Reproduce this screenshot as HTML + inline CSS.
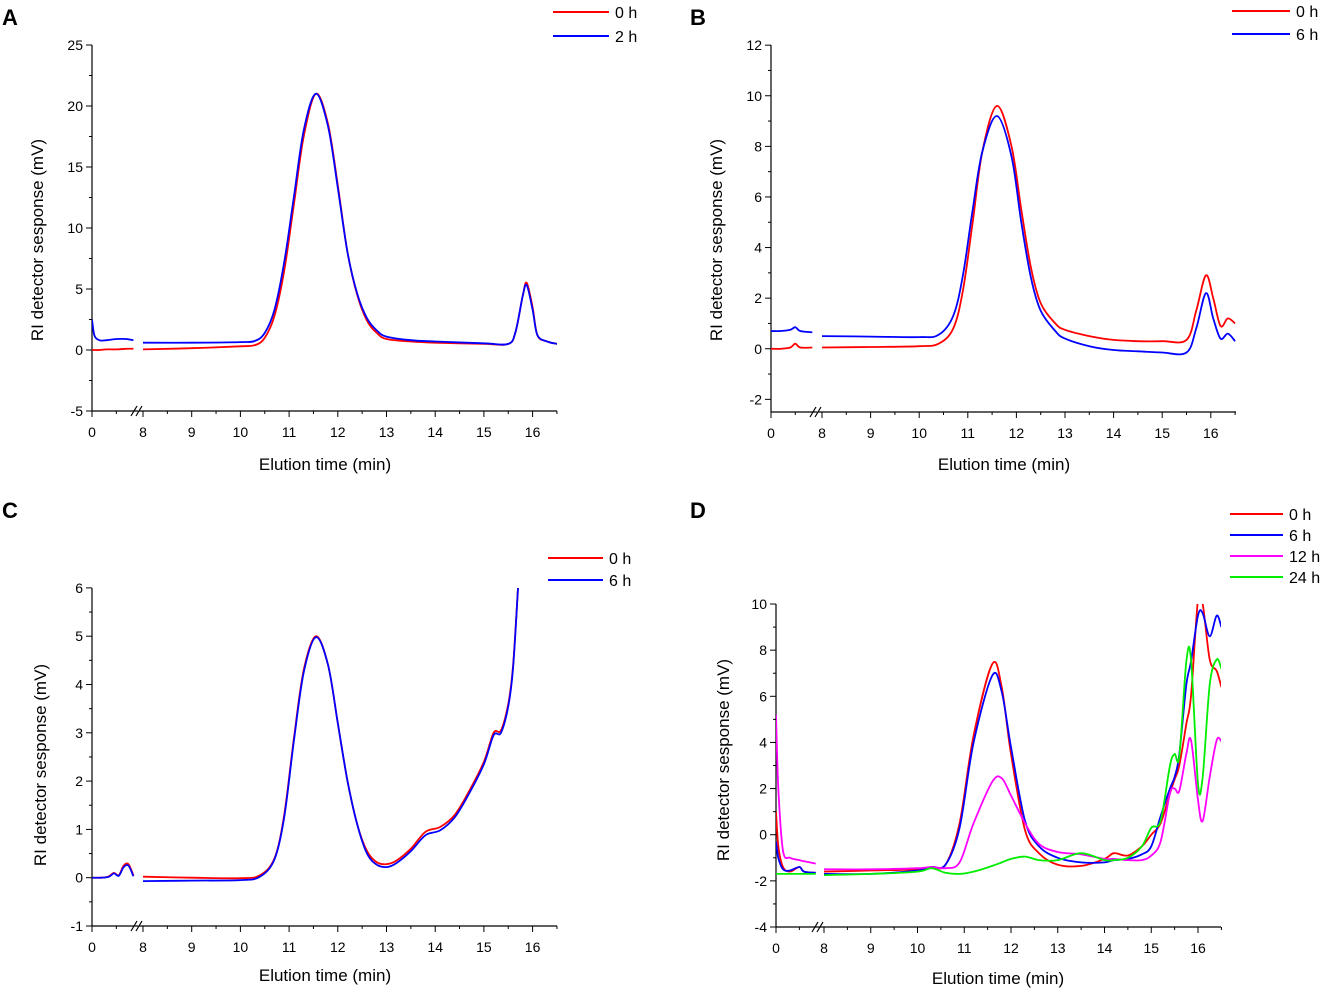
<!DOCTYPE html>
<html><head><meta charset="utf-8"><style>
body{margin:0;background:#fff;width:1324px;height:988px;overflow:hidden}
svg{font-family:"Liberation Sans",Arial,sans-serif}
</style></head><body>
<svg id="fig" width="1324" height="988">
<text x="2" y="25" font-size="22" font-weight="bold">A</text>
<text x="690" y="25" font-size="22" font-weight="bold">B</text>
<text x="2" y="518" font-size="22" font-weight="bold">C</text>
<text x="690" y="518" font-size="22" font-weight="bold">D</text>
</svg>
<script>
// Panel A data
const aPreT=[0,0.05,0.15,0.3,0.5,0.7,0.85];
const aPreRed=[0,0,0,0.05,0.05,0.1,0.1];
const aPreBlue=[2.5,1.2,0.8,0.8,0.9,0.9,0.8];
const aT=[8,9,10,10.3,10.5,10.7,10.9,11.1,11.3,11.55,11.8,12,12.2,12.4,12.6,12.8,13,13.5,14,15,15.5,15.65,15.8,15.88,16,16.1,16.3,16.5];
const aRed=[0.05,0.15,0.3,0.4,1,2.8,6.5,12,17.5,21,18.5,13.5,8,4.5,2.4,1.4,0.9,0.7,0.6,0.5,0.5,1.5,4.5,5.5,3.5,1.2,0.7,0.5];
const aBlue=[0.6,0.6,0.65,0.75,1.4,3.3,7.2,12.6,18,21,18.3,13.3,8,4.6,2.6,1.6,1.1,0.8,0.7,0.55,0.5,1.5,4.5,5.3,3.3,1.2,0.7,0.5];
const aYTicks=[-5,0,5,10,15,20,25];
// Panel B data
const bPreT=[0,0.2,0.4,0.5,0.6,0.85];
const bPreRed=[0,0,0.05,0.2,0.05,0.05];
const bPreBlue=[0.7,0.7,0.75,0.85,0.7,0.65];
const bT=[8,9,10,10.4,10.7,10.9,11.1,11.3,11.6,11.9,12.1,12.3,12.5,12.8,13,13.5,14,14.5,15,15.5,15.7,15.9,16.05,16.2,16.35,16.5];
const bRed=[0.05,0.07,0.1,0.2,0.8,2.3,5,7.8,9.6,8,5.5,3.2,1.8,1,0.75,0.5,0.35,0.3,0.3,0.35,1.5,2.9,2,0.9,1.2,1.0];
const bBlue=[0.5,0.48,0.46,0.55,1.3,2.9,5.5,7.8,9.2,7.6,5,2.8,1.5,0.7,0.4,0.1,-0.05,-0.1,-0.15,-0.15,0.8,2.2,1.2,0.4,0.6,0.3];
const bYTicks=[-2,0,2,4,6,8,10,12];
// Panel C data
const cPreT=[0,0.2,0.35,0.45,0.55,0.65,0.75,0.85];
const cPreRed=[0,0,0.03,0.1,0.05,0.25,0.28,0.05];
const cPreBlue=[0,0,0.02,0.09,0.04,0.22,0.25,0.03];
const cT=[8,9,10,10.4,10.7,10.9,11.1,11.3,11.55,11.8,12,12.2,12.4,12.6,12.8,13,13.2,13.5,13.8,14.1,14.4,14.7,15,15.2,15.35,15.5,15.6,15.7];
const cRed=[0.02,0,-0.01,0.05,0.4,1.3,2.9,4.3,5,4.4,3.2,2,1.1,0.55,0.32,0.28,0.35,0.6,0.95,1.05,1.3,1.8,2.4,3,3.05,3.6,4.4,6];
const cBlue=[-0.07,-0.06,-0.05,0.02,0.38,1.25,2.85,4.25,4.98,4.4,3.2,2,1.1,0.5,0.27,0.22,0.3,0.55,0.88,0.98,1.25,1.75,2.35,2.95,3.0,3.55,4.35,6];
const cYTicks=[-1,0,1,2,3,4,5,6];
// Panel D data
const dPreT=[0,0.05,0.15,0.3,0.5,0.6,0.85];
const dPreRed=[1,-0.5,-1.4,-1.6,-1.4,-1.6,-1.65];
const dPreBlue=[-0.3,-1,-1.5,-1.55,-1.4,-1.6,-1.65];
const dPreMag=[5.2,2,-0.7,-1,-1.1,-1.15,-1.25];
const dPreGreen=[-1.7,-1.7,-1.7,-1.7,-1.7,-1.7,-1.7];
const dT=[8,9,10,10.3,10.6,10.9,11.2,11.6,11.8,12,12.3,12.6,13,13.5,14,14.2,14.5,14.8,15,15.2,15.4,15.5,15.6,15.75,15.85,16,16.1,16.25,16.4,16.5];
const dRed=[-1.6,-1.55,-1.5,-1.4,-1.3,0.5,4.3,7.4,6.4,3.5,0.2,-0.8,-1.3,-1.35,-1.05,-0.8,-0.9,-0.5,0,0.5,1.8,2.4,3.0,4.8,6,10.2,10,7.6,7.1,6.4];
const dBlue=[-1.7,-1.7,-1.55,-1.4,-1.3,0.3,4,6.9,6.2,3.8,0.6,-0.5,-1,-1.2,-1.2,-1.1,-1.05,-0.85,-0.5,0.8,2,2.5,3.5,6.5,7.5,9.5,9.6,8.6,9.5,9.0];
const dMag=[-1.5,-1.5,-1.45,-1.4,-1.45,-1.2,0.5,2.3,2.45,1.7,0.5,-0.4,-0.75,-0.85,-1.05,-1.05,-1.1,-1.1,-0.9,-0.3,1.8,2.0,1.9,3.5,4.1,1.5,0.6,2.5,4.1,4.05];
const dGreen=[-1.75,-1.7,-1.6,-1.45,-1.65,-1.7,-1.6,-1.35,-1.2,-1.05,-0.95,-1.1,-1.1,-0.8,-1.1,-1.1,-1.0,-0.5,0.3,0.6,3.0,3.5,3.4,7.5,7.6,2.2,2.5,6.5,7.6,7.2];
const dYTicks=[-4,-2,0,2,4,6,8,10];
const xTickLabels=[8,9,10,11,12,13,14,15,16];
const NS='http://www.w3.org/2000/svg';
const svg=document.getElementById('fig');
function mk(tag,attrs,parent){const e=document.createElementNS(NS,tag);for(const k in attrs)e.setAttribute(k,attrs[k]);(parent||svg).appendChild(e);return e;}
function spline(pts){if(pts.length<2)return'';let d='M'+pts[0][0].toFixed(1)+','+pts[0][1].toFixed(1);
for(let i=0;i<pts.length-1;i++){const p0=pts[i-1]||pts[i],p1=pts[i],p2=pts[i+1],p3=pts[i+2]||p2;
d+=' C'+(p1[0]+(p2[0]-p0[0])/6).toFixed(1)+','+(p1[1]+(p2[1]-p0[1])/6).toFixed(1)+' '+(p2[0]-(p3[0]-p1[0])/6).toFixed(1)+','+(p2[1]-(p3[1]-p1[1])/6).toFixed(1)+' '+p2[0].toFixed(1)+','+p2[1].toFixed(1);}return d;}
function panel(id,cfg){
 const g=mk('g',{});
 
 
 const xs=t=>t<4?cfg.x0+t*cfg.s:cfg.x8+(t-8)*cfg.s;
 const ys=v=>cfg.yb-(v-cfg.ymin)*cfg.ppu;
 const clip=mk('clipPath',{id:'clip'+id},g);mk('rect',{x:cfg.x0,y:cfg.ytop,width:cfg.xend-cfg.x0,height:cfg.yb-cfg.ytop},clip);
 // axes
 const ax=mk('path',{d:'M'+cfg.x0+','+cfg.ytop+'V'+cfg.yb+'H'+(cfg.x0+cfg.s*0.95)+' M'+(cfg.x8-4)+','+cfg.yb+'H'+cfg.xend,stroke:'#000','stroke-width':1.2,fill:'none'},g);
 
 mk('path',{d:'M'+(cfg.x8-12)+','+(cfg.yb+5)+'L'+(cfg.x8-6)+','+(cfg.yb-5)+'M'+(cfg.x8-7)+','+(cfg.yb+5)+'L'+(cfg.x8-1)+','+(cfg.yb-5),stroke:'#000','stroke-width':1.2},g);
 // y ticks
 const step=cfg.yticks[1]-cfg.yticks[0];
 cfg.yticks.forEach(v=>{const y=ys(v);mk('line',{x1:cfg.x0-6,x2:cfg.x0,y1:y,y2:y,stroke:'#000'},g);
  if(v+step/2<=cfg.ytopV){const y2=ys(v+step/2);mk('line',{x1:cfg.x0-3,x2:cfg.x0,y1:y2,y2:y2,stroke:'#000'},g);}
  const t=mk('text',{x:cfg.x0-9,y:y+5,'font-size':14,'text-anchor':'end'},g);t.textContent=v;
  });
 // x ticks
 [0,0.5].forEach(v=>{mk('line',{x1:xs(v),x2:xs(v),y1:cfg.yb,y2:cfg.yb+(v==0?6:3),stroke:'#000'},g);});
 const t0=mk('text',{x:xs(0),y:cfg.yb+26,'font-size':14,'text-anchor':'middle'},g);t0.textContent='0';
 
 xTickLabels.forEach(v=>{mk('line',{x1:xs(v),x2:xs(v),y1:cfg.yb,y2:cfg.yb+6,stroke:'#000'},g);
  if(v+0.5<=16.5)mk('line',{x1:xs(v+0.5),x2:xs(v+0.5),y1:cfg.yb,y2:cfg.yb+3,stroke:'#000'},g);
  const t=mk('text',{x:xs(v),y:cfg.yb+26,'font-size':14,'text-anchor':'middle'},g);t.textContent=v;
  });
 const xl=mk('text',{x:cfg.xlab[0],y:cfg.xlab[1],'font-size':17,'text-anchor':'middle'},g);xl.textContent='Elution time (min)';
 
 const yl=mk('text',{x:0,y:0,'font-size':17,'text-anchor':'middle',transform:'translate('+cfg.ylab[0]+','+cfg.ylab[1]+') rotate(-90)'},g);yl.textContent='RI detector sesponse (mV)';
 
 // series
 cfg.series.forEach((s,i)=>{
  [[cfg.preT,s.pre],[cfg.T,s.post]].forEach(([tt,vv])=>{
   const pts=tt.map((t,j)=>[xs(t),ys(vv[j])]);
   const p=mk('path',{d:spline(pts),stroke:s.color,'stroke-width':1.8,fill:'none','clip-path':'url(#clip'+id+')'},g);
   
   
  });
  const ly=cfg.leg[1]+i*cfg.leg[3];
  const ll=mk('line',{x1:cfg.leg[0],x2:cfg.leg[0]+cfg.leg[2],y1:ly,y2:ly,stroke:s.color,'stroke-width':2},g);
  
  const lt=mk('text',{x:cfg.leg[0]+cfg.leg[2]+6,y:ly+6,'font-size':16},g);lt.textContent=s.name;
  
 });
}
panel('a',{x0:92,x8:143,s:48.7,xend:557,ymin:-5,ytopV:25,yb:411,ytop:45,ppu:12.2,yticks:aYTicks,xlab:[325,470],ylab:[43,240],
 leg:[553,12,56,24],preT:aPreT,T:aT,series:[{name:'0 h',color:'#f00',pre:aPreRed,post:aRed},{name:'2 h',color:'#00f',pre:aPreBlue,post:aBlue}]});
panel('b',{x0:771,x8:822,s:48.6,xend:1236,ymin:-2.5,ytopV:12,yb:412,ytop:45,ppu:25.3,yticks:bYTicks,xlab:[1004,470],ylab:[722,240],
 leg:[1232,11,58,23],preT:bPreT,T:bT,series:[{name:'0 h',color:'#f00',pre:bPreRed,post:bRed},{name:'6 h',color:'#00f',pre:bPreBlue,post:bBlue}]});
panel('c',{x0:92,x8:143,s:48.7,xend:557,ymin:-1,ytopV:6,yb:926,ytop:588,ppu:48.3,yticks:cYTicks,xlab:[325,981],ylab:[46,765],
 leg:[548,558,55,22],preT:cPreT,T:cT,series:[{name:'0 h',color:'#f00',pre:cPreRed,post:cRed},{name:'6 h',color:'#00f',pre:cPreBlue,post:cBlue}]});
panel('d',{x0:776,x8:824,s:46.75,xend:1221,ymin:-4,ytopV:10,yb:927,ytop:604,ppu:23.07,yticks:dYTicks,xlab:[998,984],ylab:[729,760],
 leg:[1230,514,53,21],preT:dPreT,T:dT,series:[{name:'0 h',color:'#f00',pre:dPreRed,post:dRed},{name:'6 h',color:'#00f',pre:dPreBlue,post:dBlue},{name:'12 h',color:'#f0f',pre:dPreMag,post:dMag},{name:'24 h',color:'#0e0',pre:dPreGreen,post:dGreen}]});
</script>
</body></html>
